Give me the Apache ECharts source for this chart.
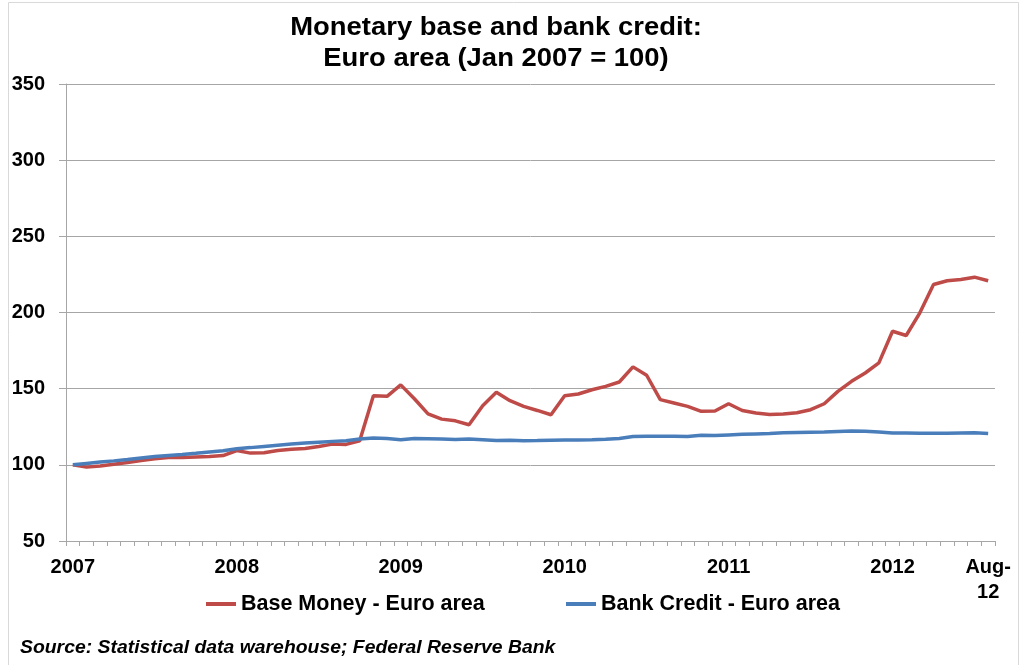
<!DOCTYPE html>
<html>
<head>
<meta charset="utf-8">
<script src="https://cdn.jsdelivr.net/npm/echarts@6/dist/echarts.min.js"></script>
<style>
  html, body { margin: 0; padding: 0; background: #fff; }
  #chart { width: 1021px; height: 665px; }
</style>
</head>
<body>
<div id="chart"></div>
<script>
// Monthly index values, Jan 2007 = 100 (Jan 2007 .. Aug 2012)
const years = ['07', '08', '09', '10', '11', '12'];
const monthNames = ['Jan', 'Feb', 'Mar', 'Apr', 'May', 'Jun', 'Jul', 'Aug', 'Sep', 'Oct', 'Nov', 'Dec'];
const lastMonthLabel = 'Aug-12';

const baseMoney = [
  100, 98.5, 99.3, 100.4, 101.5, 102.9, 104, 104.8, 104.8, 105.2, 105.5, 106.1,
  109.4, 107.7, 108, 109.4, 110.3, 110.7, 112, 113.6, 113.4, 115.8, 145.4, 145,
  152.5, 143.4, 133.5, 130, 128.9, 126.3, 138.8, 147.6, 142.1, 138.4, 135.7, 132.9,
  145.4, 146.5, 149.3, 151.5, 154.4, 164.3, 158.8, 142.8, 140.6, 138.4, 135.1, 135.3,
  140.1, 135.7, 134, 133.1, 133.3, 134.2, 136.2, 140.1, 148.2, 154.8, 160.3, 166.9,
  187.7, 184.9, 199.8, 218.4, 220.8, 221.7, 223.2, 220.8
];

const bankCredit = [
  100, 100.9, 101.8, 102.6, 103.5, 104.5, 105.4, 106.1, 106.8, 107.6, 108.5, 109.3,
  110.6, 111.3, 112.1, 112.9, 113.6, 114.3, 114.9, 115.4, 115.8, 116.9, 117.6, 117.3,
  116.4, 117.3, 117.1, 116.9, 116.7, 116.9, 116.5, 115.9, 116.1, 115.8, 115.9, 116.2,
  116.3, 116.3, 116.5, 116.8, 117.3, 118.6, 118.8, 118.7, 118.7, 118.6, 119.4, 119.2,
  119.6, 120.0, 120.3, 120.6, 121.0, 121.3, 121.4, 121.5, 121.9, 122.2, 122.0, 121.6,
  120.9, 120.9, 120.7, 120.7, 120.7, 120.9, 121.0, 120.5
];

const yTicks = { min: 50, max: 350, interval: 50 };

// Month categories, e.g. "Jan-07"
const categories = [];
years.forEach(function (yy) {
  monthNames.forEach(function (m) {
    if (categories.length < baseMoney.length) categories.push(m + '-' + yy);
  });
});

const FONT = '"Liberation Sans", Arial, sans-serif';
const RED = '#BE4B48';
const BLUE = '#4A7EBB';
const GRID_GRAY = '#a6a6a6';

const chart = echarts.init(document.getElementById('chart'), null, { renderer: 'canvas' });

chart.setOption({
  backgroundColor: '#ffffff',
  animation: false,
  graphic: [
    {
      type: 'rect',
      shape: { x: 8.5, y: 2.5, width: 1010, height: 700 },
      style: { fill: 'none', stroke: '#d9d9d9', lineWidth: 1 },
      silent: true
    },
    {
      type: 'text',
      x: 496,
      y: 12,
      scaleX: 1.055,
      style: {
        text: 'Monetary base and bank credit:\nEuro area (Jan 2007 = 100)',
        fontFamily: FONT,
        fontSize: 26,
        fontWeight: 'bold',
        lineHeight: 31,
        align: 'center',
        verticalAlign: 'top',
        fill: '#000'
      }
    },
    {
      type: 'text',
      x: 20,
      y: 648,
      scaleX: 1.02,
      style: {
        text: 'Source: Statistical data warehouse; Federal Reserve Bank',
        fontFamily: FONT,
        fontSize: 19,
        fontWeight: 'bold',
        fontStyle: 'italic',
        align: 'left',
        verticalAlign: 'middle',
        fill: '#000'
      }
    }
  ],
  legend: [
    {
      data: ['Base Money - Euro area'],
      left: 206,
      top: 592,
      padding: 0,
      icon: 'rect',
      itemWidth: 30,
      itemHeight: 4,
      textStyle: { fontFamily: FONT, fontSize: 21.5, fontWeight: 'bold', color: '#000', lineHeight: 24 }
    },
    {
      data: ['Bank Credit - Euro area'],
      left: 566,
      top: 592,
      padding: 0,
      icon: 'rect',
      itemWidth: 30,
      itemHeight: 4,
      textStyle: { fontFamily: FONT, fontSize: 21.5, fontWeight: 'bold', color: '#000', lineHeight: 24 }
    }
  ],
  grid: { left: 66, right: 26, top: 84, bottom: 124, containLabel: false },
  xAxis: {
    type: 'category',
    data: categories,
    boundaryGap: true,
    axisLine: { show: true, lineStyle: { color: GRID_GRAY, width: 1 } },
    axisTick: { show: true, interval: 0, length: 5, alignWithLabel: false, lineStyle: { color: GRID_GRAY } },
    axisLabel: {
      interval: function (index) {
        return index % 12 === 0 || index === categories.length - 1;
      },
      formatter: function (value) {
        if (value === lastMonthLabel) return 'Aug-\n12';
        return '20' + value.slice(-2);
      },
      margin: 14,
      fontFamily: FONT,
      fontSize: 20,
      fontWeight: 'bold',
      lineHeight: 25,
      color: '#000'
    },
    splitLine: { show: false }
  },
  yAxis: {
    type: 'value',
    min: yTicks.min,
    max: yTicks.max,
    interval: yTicks.interval,
    axisLine: { show: true, lineStyle: { color: GRID_GRAY, width: 1 } },
    axisTick: { show: true, length: 7, lineStyle: { color: GRID_GRAY } },
    axisLabel: {
      margin: 21,
      fontFamily: FONT,
      fontSize: 20,
      fontWeight: 'bold',
      color: '#000'
    },
    splitLine: { show: true, lineStyle: { color: GRID_GRAY, width: 1 } }
  },
  series: [
    {
      name: 'Base Money - Euro area',
      type: 'line',
      data: baseMoney,
      symbol: 'none',
      color: RED,
      lineStyle: { color: RED, width: 3.5 },
      z: 2
    },
    {
      name: 'Bank Credit - Euro area',
      type: 'line',
      data: bankCredit,
      symbol: 'none',
      color: BLUE,
      lineStyle: { color: BLUE, width: 3.5 },
      z: 3
    }
  ]
});
</script>
</body>
</html>
